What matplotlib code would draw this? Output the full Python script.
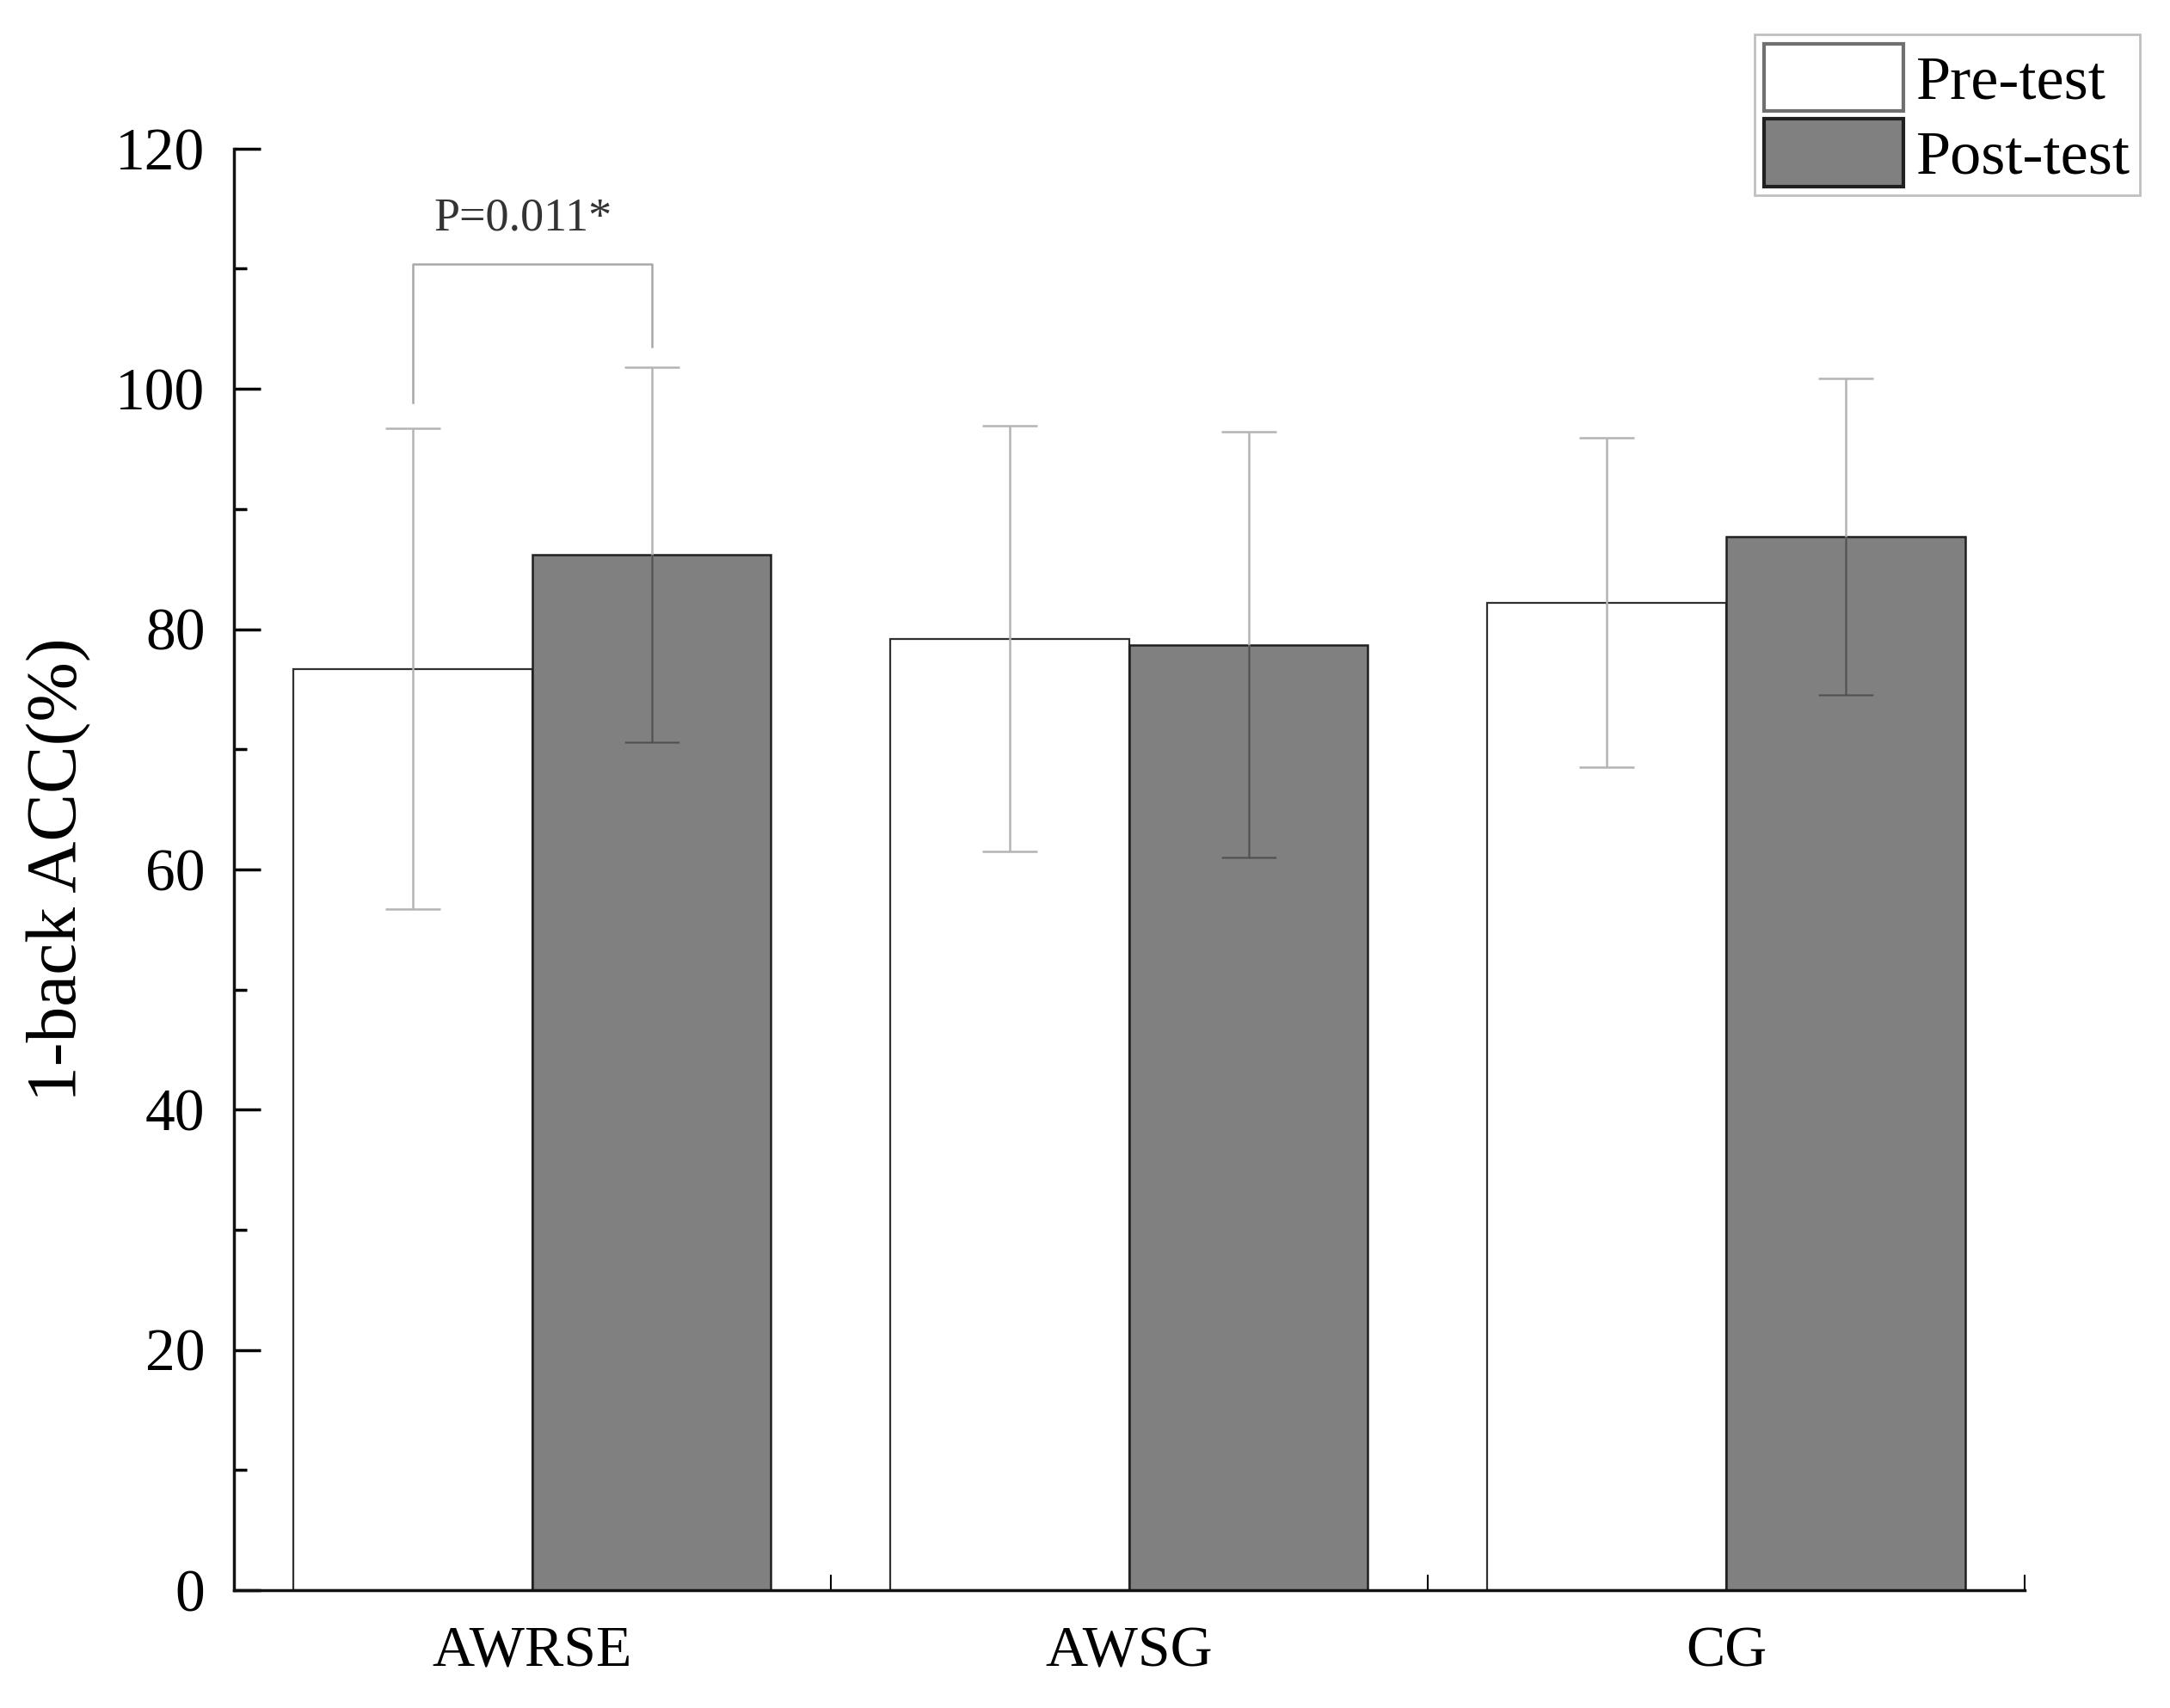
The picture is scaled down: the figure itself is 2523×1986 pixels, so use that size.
import matplotlib
matplotlib.use('Agg')
import matplotlib.pyplot as plt
from matplotlib.patches import Patch
import numpy as np

plt.rcParams['font.family'] = ['Liberation Serif', 'DejaVu Serif']

# datos
grupos = ['AWRSE', 'AWSG', 'CG']
pre_media = [76.7, 79.2, 82.2]
pre_de = [20.0, 17.7, 13.7]
post_media = [86.2, 78.7, 87.7]
post_de = [15.6, 17.7, 13.2]
p_texto = 'P=0.011*'
p_y = [110.4, 98.9, 103.5]  # altura del corchete, pata izquierda, pata derecha

x = np.arange(len(grupos))
ancho = 0.4

fig = plt.figure(figsize=(25.23, 19.86), dpi=100)
ax = fig.add_axes([0.1077, 0.069, 0.8253, 0.844])

barras_pre = ax.bar(x - ancho/2, pre_media, ancho, color='white',
                    edgecolor='#303030', linewidth=1.6, zorder=2)
barras_post = ax.bar(x + ancho/2, post_media, ancho, color='#808080',
                     edgecolor='#202020', linewidth=1.8, zorder=2)

# barras de error (gris claro), y mas oscuras dentro de las barras grises
ax.errorbar(x - ancho/2, pre_media, yerr=pre_de, fmt='none', ecolor='#b4b4b4',
            elinewidth=1.8, capsize=23, capthick=1.8, zorder=3)
ax.errorbar(x + ancho/2, post_media, yerr=post_de, fmt='none', ecolor='#b4b4b4',
            elinewidth=1.8, capsize=23, capthick=1.8, zorder=3)
for i, rect in enumerate(barras_post):
    cont = ax.errorbar(x[i] + ancho/2, post_media[i], yerr=post_de[i], fmt='none',
                       ecolor='#505050', elinewidth=1.8, capsize=23, capthick=1.8,
                       zorder=4)
    for art in cont.lines[1] + cont.lines[2]:
        art.set_clip_path(rect)

# corchete de significancia
ax.plot([x[0] - ancho/2, x[0] - ancho/2, x[0] + ancho/2, x[0] + ancho/2],
        [p_y[1], p_y[0], p_y[0], p_y[2]], color='#a8a8a8', linewidth=1.8, zorder=3)
ax.text(x[0] - 0.016, p_y[0] + 3.8, p_texto, ha='center', va='center',
        fontsize=39, color='#333333')

ax.set_xlim(-0.5, 2.5)
ax.set_ylim(0, 120)
ax.set_yticks(np.arange(0, 121, 20))
ax.set_yticks(np.arange(10, 120, 20), minor=True)
ax.set_xticks(x)
ax.set_xticklabels(grupos)
ax.set_xticks([0.5, 1.5, 2.5], minor=True)

ax.tick_params(axis='y', which='major', direction='in', length=22, width=2.5,
               labelsize=50, pad=24)
ax.tick_params(axis='y', which='minor', direction='in', length=11, width=2.5)
ax.tick_params(axis='x', which='major', length=0, labelsize=49, pad=30)
ax.tick_params(axis='x', which='minor', direction='in', length=13, width=1.5)

for lado in ['top', 'right']:
    ax.spines[lado].set_visible(False)
for lado in ['left', 'bottom']:
    ax.spines[lado].set_linewidth(2.5)
    ax.spines[lado].set_color('#111111')

ax.set_ylabel('1-back ACC(%)', fontsize=60, labelpad=20)

manejadores = [Patch(facecolor='white', edgecolor='#707070', linewidth=3),
               Patch(facecolor='#808080', edgecolor='#202020', linewidth=3)]
leg = fig.legend(manejadores, ['Pre-test', 'Post-test'], loc='upper right',
                 bbox_to_anchor=(0.986, 0.980), fontsize=52, frameon=True,
                 fancybox=False, edgecolor='#b0b0b0', handlelength=2.25,
                 handleheight=1.3, handletextpad=0.2, labelspacing=0.12,
                 borderpad=0.15, borderaxespad=0)
leg.get_frame().set_linewidth(2)

fig.savefig('out.png', dpi=100)
